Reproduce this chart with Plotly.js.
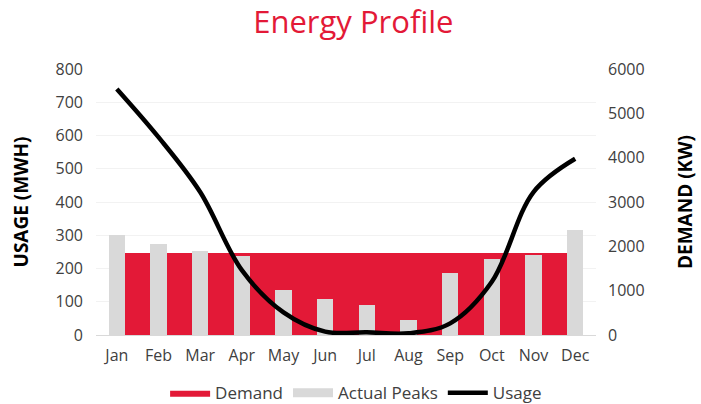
<!DOCTYPE html>
<html>
<head>
<meta charset="utf-8">
<script src="https://cdn.plot.ly/plotly-3.0.1.min.js"></script>
<style>html,body{margin:0;padding:0;background:#fff}#chart{width:701px;height:404px}</style>
</head>
<body>
<div id="chart"></div>
<script>
var months = ['Jan','Feb','Mar','Apr','May','Jun','Jul','Aug','Sep','Oct','Nov','Dec'];
var demandKW = [1850,1850,1850,1850,1850,1850,1850,1850,1850,1850,1850,1850];
var actualPeaksKW = [2250,2050,1890,1775,1015,812,677,338,1406,1707,1805,2361];
var usageMWh = [740,595,430,195,68,10,8,5,35,160,430,530];

var FONT = 'Open Sans, Lato, sans-serif';
var RED = '#E31937';
var GREY = '#D9D9D9';

var traces = [
  {
    name: 'Demand', type: 'scatter', mode: 'lines', x: months, y: demandKW,
    fill: 'tozeroy', fillcolor: RED, line: {width: 0, color: RED},
    xaxis: 'x', yaxis: 'y', hoverinfo: 'skip'
  },
  {
    name: 'Actual Peaks', type: 'bar', x: months, y: actualPeaksKW,
    marker: {color: GREY}, width: 0.385, showlegend: false,
    xaxis: 'x', yaxis: 'y2'
  },
  {
    // legend swatch only (wide grey bar symbol like the reference)
    name: 'Actual Peaks', type: 'scatter', mode: 'lines', x: [null], y: [null],
    line: {color: GREY, width: 9}, xaxis: 'x', yaxis: 'y2', hoverinfo: 'skip'
  },
  {
    name: 'Usage', type: 'scatter', mode: 'lines', x: months, y: usageMWh,
    line: {color: '#000000', width: 4.5, shape: 'spline', smoothing: 1},
    xaxis: 'x', yaxis: 'y3', cliponaxis: true
  }
];

var layout = {
  width: 701, height: 404,
  paper_bgcolor: '#ffffff', plot_bgcolor: '#ffffff',
  margin: {l: 96, r: 105, t: 69, b: 69},
  font: {family: FONT, color: '#404040', size: 16},
  title: {
    text: 'Energy Profile',
    font: {family: FONT, size: 31, color: RED},
    x: 0.504, xanchor: 'center', xref: 'container',
    y: 0.945, yanchor: 'middle', yref: 'container'
  },
  showlegend: true,
  legend: {
    orientation: 'h', x: 0.508, xanchor: 'center', xref: 'container',
    y: 0.027, yanchor: 'middle', yref: 'container',
    font: {family: FONT, size: 17, color: '#404040'},
    traceorder: 'normal', itemwidth: 40
  },
  xaxis: {
    type: 'category', range: [-0.5, 11.5], automargin: false,
    showgrid: false, zeroline: false,
    showline: true, linecolor: GREY, linewidth: 1,
    ticks: '', ticklabelstandoff: 6,
    tickfont: {family: FONT, size: 16, color: '#404040'}
  },
  yaxis: {
    side: 'right', range: [0, 6000], dtick: 1000, automargin: false,
    showgrid: false, zeroline: false, showline: false, ticks: '',
    ticklabelstandoff: 11,
    tickfont: {family: FONT, size: 16, color: '#404040'},
    title: {text: '<b>DEMAND (KW)</b>', font: {family: FONT, size: 19, color: '#000000'}, standoff: 35}
  },
  yaxis2: {
    overlaying: 'y', side: 'right', range: [0, 6000], visible: false,
    showgrid: false, zeroline: false
  },
  yaxis3: {
    overlaying: 'y', side: 'left', range: [0, 800], dtick: 100, automargin: false,
    showgrid: true, gridcolor: '#F2F2F2', gridwidth: 1,
    zeroline: false, showline: false, ticks: '',
    ticklabelstandoff: 12,
    tickfont: {family: FONT, size: 16, color: '#404040'},
    title: {text: '<b>USAGE (MWH)</b>', font: {family: FONT, size: 19, color: '#000000'}, standoff: 21}
  },
  bargap: 0
};

Plotly.newPlot('chart', traces, layout, {displayModeBar: false, staticPlot: true});
</script>
</body>
</html>
